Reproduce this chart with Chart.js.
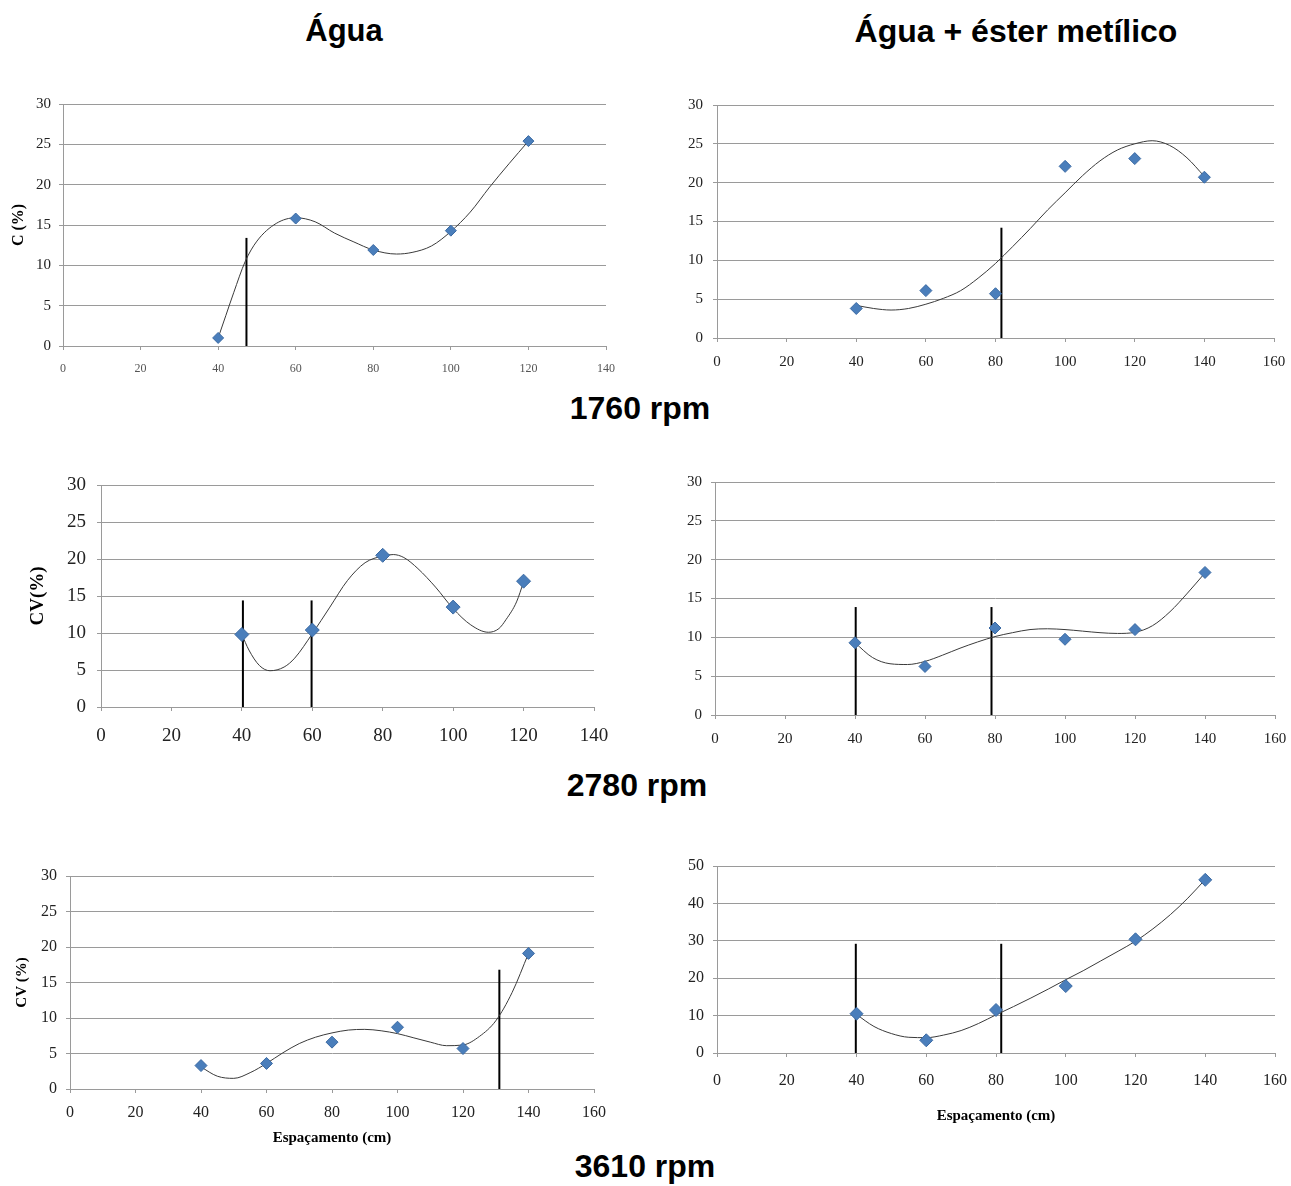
<!DOCTYPE html>
<html lang="pt">
<head>
<meta charset="utf-8">
<title>CV x Espaçamento</title>
<script src="https://cdn.jsdelivr.net/npm/chart.js@4.4.1/dist/chart.umd.min.js"></script>
<style>
  html, body { margin: 0; padding: 0; background: #fff; }
  #page { position: relative; width: 1291px; height: 1186px; overflow: hidden; background: #fff; }
  .heading {
    position: absolute;
    font-family: "Liberation Sans", Arial, sans-serif;
    font-weight: bold;
    font-size: 32px;
    line-height: 32px;
    color: #000;
    white-space: nowrap;
    transform: translateX(-50%);
  }
  canvas { position: absolute; }
</style>
</head>
<body>
<div id="page">
  <div class="heading" style="left:344px; top:15px; font-size:31px;">Água</div>
  <div class="heading" style="left:1016px; top:15px;">Água + éster metílico</div>
  <div class="heading" style="left:640px; top:392px;">1760 rpm</div>
  <div class="heading" style="left:637px; top:769px;">2780 rpm</div>
  <div class="heading" style="left:645px; top:1150px;">3610 rpm</div>

  <canvas id="p1"></canvas>
  <canvas id="p2"></canvas>
  <canvas id="p3"></canvas>
  <canvas id="p4"></canvas>
  <canvas id="p5"></canvas>
  <canvas id="p6"></canvas>
</div>

<script>
// ---- Data ----

// 1760 rpm - Água
const p1X = [40, 60, 80, 100, 120];
const p1Y = [1.0, 15.8, 11.9, 14.3, 25.4];
const p1CurveX = [40, 42, 44, 47, 50, 55, 60, 65, 70, 75, 80, 86, 90, 95, 100, 105, 110, 115, 120];
const p1CurveY = [1.0, 3.8, 6.6, 10.5, 13.0, 15.2, 15.9, 15.4, 14.0, 12.9, 11.9, 11.4, 11.6, 12.4, 14.2, 16.6, 19.7, 22.6, 25.4];
const p1Marks = [[47.3, 13.4]];

// 1760 rpm - Água + éster metílico
const p2X = [40, 60, 80, 100, 120, 140];
const p2Y = [3.8, 6.1, 5.7, 22.1, 23.1, 20.7];
const p2CurveX = [40, 45, 50, 55, 60, 65, 70, 75, 80, 85, 90, 95, 100, 105, 110, 115, 120, 125, 130, 135, 140];
const p2CurveY = [4.2, 3.8, 3.6, 3.8, 4.35, 5.1, 6.1, 7.7, 9.6, 11.8, 14.1, 16.5, 18.7, 20.9, 22.8, 24.2, 25.0, 25.4, 24.8, 23.2, 20.8];
const p2Marks = [[81.7, 14.2]];

// 2780 rpm - Água
const p3X = [40, 60, 80, 100, 120];
const p3Y = [9.8, 10.4, 20.5, 13.5, 17.0];
const p3CurveX = [40, 42, 45, 48, 52, 55, 60, 65, 70, 75, 80, 83, 86, 90, 95, 100, 105, 110, 113, 115, 118, 120];
const p3CurveY = [9.8, 7.7, 5.6, 4.9, 5.4, 6.6, 9.9, 13.5, 17.1, 19.5, 20.4, 20.6, 20.2, 18.7, 16.2, 13.3, 11.1, 10.1, 10.6, 11.8, 14.2, 16.9];
const p3Marks = [[40.3, 14.4], [59.8, 14.4]];

// 2780 rpm - Água + éster metílico
const p4X = [40, 60, 80, 100, 120, 140];
const p4Y = [9.3, 6.25, 11.2, 9.75, 11.0, 18.35];
const p4CurveX = [40, 45, 50, 55, 60, 65, 70, 75, 80, 85, 90, 95, 100, 105, 110, 115, 120, 125, 130, 135, 140];
const p4CurveY = [9.3, 7.4, 6.6, 6.5, 6.9, 7.7, 8.6, 9.4, 10.1, 10.6, 11.0, 11.1, 11.0, 10.8, 10.6, 10.5, 10.65, 11.5, 13.3, 15.7, 18.3];
const p4Marks = [[40.2, 13.9], [79.0, 13.9]];

// 3610 rpm - Água
const p5X = [40, 60, 80, 100, 120, 140];
const p5Y = [3.3, 3.6, 6.6, 8.7, 5.7, 19.1];
const p5CurveX = [40, 45, 50, 55, 60, 65, 70, 75, 80, 85, 90, 95, 100, 105, 110, 115, 120, 125, 130, 135, 140];
const p5CurveY = [3.1, 1.8, 1.5, 2.3, 3.6, 5.1, 6.4, 7.3, 7.9, 8.3, 8.4, 8.2, 7.8, 7.2, 6.6, 6.1, 6.2, 7.4, 9.6, 13.6, 19.1];
const p5Marks = [[131.1, 16.8]];

// 3610 rpm - Água + éster metílico
const p6X = [40, 60, 80, 100, 120, 140];
const p6Y = [10.5, 3.4, 11.5, 17.9, 30.4, 46.3];
const p6CurveX = [40, 45, 50, 55, 60, 65, 70, 75, 80, 85, 90, 95, 100, 105, 110, 115, 120, 125, 130, 135, 140];
const p6CurveY = [10.3, 7.1, 5.2, 4.2, 4.1, 4.8, 6.0, 7.9, 10.2, 12.4, 14.7, 17.1, 19.6, 22.0, 24.6, 27.2, 29.9, 33.2, 37.0, 41.4, 46.4];
const p6Marks = [[39.8, 29.2], [81.5, 29.2]];

const xTicksTo140 = 140;
const xTicksTo160 = 160;

const SERIF = '"Liberation Serif", "Times New Roman", serif';
const GRID = '#9a9a9a';
const MARKER = '#4a7ebb';

/**
 * Zip two arrays into {x, y} points
 */
function toPoints(xs, ys) {
    return xs.map((x, i) => ({ x: x, y: ys[i] }));
}

/**
 * Build the datasets for one panel: markers, trend curve, vertical marks
 */
function buildDatasets(d) {
    const sets = [{
        data: toPoints(d.x, d.y),
        pointStyle: 'rectRot',
        pointRadius: d.marker,
        backgroundColor: MARKER,
        borderColor: '#3b6aa3',
        borderWidth: 1,
        showLine: false
    }, {
        data: toPoints(d.cx, d.cy),
        showLine: true,
        pointRadius: 0,
        borderColor: '#3a3a3a',
        borderWidth: 1,
        cubicInterpolationMode: 'monotone',
        fill: false
    }];
    d.marks.forEach(m => {
        sets.push({
            data: [{ x: m[0], y: 0 }, { x: m[0], y: m[1] }],
            showLine: true,
            pointRadius: 0,
            borderColor: '#000',
            borderWidth: 2,
            fill: false
        });
    });
    return sets;
}

/**
 * Create one panel. The canvas box is chosen so the plot area lands
 * where it sits in the original figure (top/right padding is kept
 * larger than what Chart.js reserves for the tick labels).
 */
function makePanel(id, d, p) {
    const canvas = document.getElementById(id);
    canvas.width = p.w;
    canvas.height = p.h;
    canvas.style.left = p.left + 'px';
    canvas.style.top = p.top + 'px';

    new Chart(canvas.getContext('2d'), {
        type: 'scatter',
        data: { datasets: buildDatasets(d) },
        options: {
            responsive: false,
            animation: false,
            devicePixelRatio: 1,
            layout: { padding: { top: 30, right: 30, left: 0, bottom: 0 } },
            plugins: { legend: { display: false }, tooltip: { enabled: false } },
            scales: {
                x: {
                    type: 'linear',
                    min: 0,
                    max: d.xMax,
                    ticks: {
                        stepSize: 20,
                        color: p.xColor || '#222',
                        font: { family: SERIF, size: p.xFont },
                        padding: p.xPad,
                        maxRotation: 0,
                        autoSkip: false
                    },
                    grid: { drawOnChartArea: false, drawTicks: true, tickLength: 4, color: GRID },
                    border: { color: GRID },
                    title: {
                        display: !!p.xTitle,
                        text: p.xTitle || '',
                        color: '#000',
                        font: { family: SERIF, size: p.xTitleFont || 15, weight: 'bold' },
                        padding: { top: 0, bottom: p.xTitlePad || 0 }
                    },
                    afterFit: s => { s.height = p.xh; }
                },
                y: {
                    min: 0,
                    max: d.yMax,
                    ticks: {
                        stepSize: d.yStep,
                        color: '#222',
                        font: { family: SERIF, size: p.yFont },
                        padding: p.yPad
                    },
                    grid: { color: GRID, drawTicks: true, tickLength: 4 },
                    border: { color: GRID },
                    title: {
                        display: !!p.yTitle,
                        text: p.yTitle || '',
                        color: '#000',
                        font: { family: SERIF, size: p.yTitleFont || 15, weight: 'bold' },
                        padding: { top: p.yTitlePad || 0, bottom: 0 }
                    },
                    afterFit: s => { s.width = p.yw; }
                }
            }
        }
    });
}

document.addEventListener('DOMContentLoaded', function() {
    makePanel('p1',
        { x: p1X, y: p1Y, cx: p1CurveX, cy: p1CurveY, marks: p1Marks, xMax: xTicksTo140, yMax: 30, yStep: 5, marker: 5.5 },
        { left: 0, top: 74, w: 636, h: 312, yw: 63, xh: 40,
          xFont: 12, xColor: '#555', xPad: 12, yFont: 15, yPad: 8,
          yTitle: 'C (%)', yTitleFont: 16, yTitlePad: 9 });

    makePanel('p2',
        { x: p2X, y: p2Y, cx: p2CurveX, cy: p2CurveY, marks: p2Marks, xMax: xTicksTo160, yMax: 30, yStep: 5, marker: 6 },
        { left: 650, top: 75, w: 654, h: 303, yw: 67, xh: 40,
          xFont: 15, xPad: 11, yFont: 15, yPad: 10 });

    makePanel('p3',
        { x: p3X, y: p3Y, cx: p3CurveX, cy: p3CurveY, marks: p3Marks, xMax: xTicksTo140, yMax: 30, yStep: 5, marker: 7 },
        { left: 0, top: 455, w: 624, h: 297, yw: 101, xh: 45,
          xFont: 19, xPad: 14, yFont: 19, yPad: 11,
          yTitle: 'CV(%)', yTitleFont: 19, yTitlePad: 27 });

    makePanel('p4',
        { x: p4X, y: p4Y, cx: p4CurveX, cy: p4CurveY, marks: p4Marks, xMax: xTicksTo160, yMax: 30, yStep: 5, marker: 6 },
        { left: 650, top: 452, w: 655, h: 303, yw: 65, xh: 40,
          xFont: 15, xPad: 11, yFont: 15, yPad: 9 });

    makePanel('p5',
        { x: p5X, y: p5Y, cx: p5CurveX, cy: p5CurveY, marks: p5Marks, xMax: xTicksTo160, yMax: 30, yStep: 5, marker: 6 },
        { left: 0, top: 846, w: 624, h: 304, yw: 70, xh: 61,
          xFont: 16, xPad: 10, yFont: 16, yPad: 9,
          yTitle: 'CV (%)', yTitleFont: 15, yTitlePad: 13,
          xTitle: 'Espaçamento (cm)', xTitleFont: 15, xTitlePad: 3 });

    makePanel('p6',
        { x: p6X, y: p6Y, cx: p6CurveX, cy: p6CurveY, marks: p6Marks, xMax: xTicksTo160, yMax: 50, yStep: 10, marker: 6.5 },
        { left: 650, top: 836, w: 655, h: 294, yw: 67, xh: 77,
          xFont: 16, xPad: 14, yFont: 16, yPad: 9,
          xTitle: 'Espaçamento (cm)', xTitleFont: 15, xTitlePad: 5 });
});
</script>
</body>
</html>
